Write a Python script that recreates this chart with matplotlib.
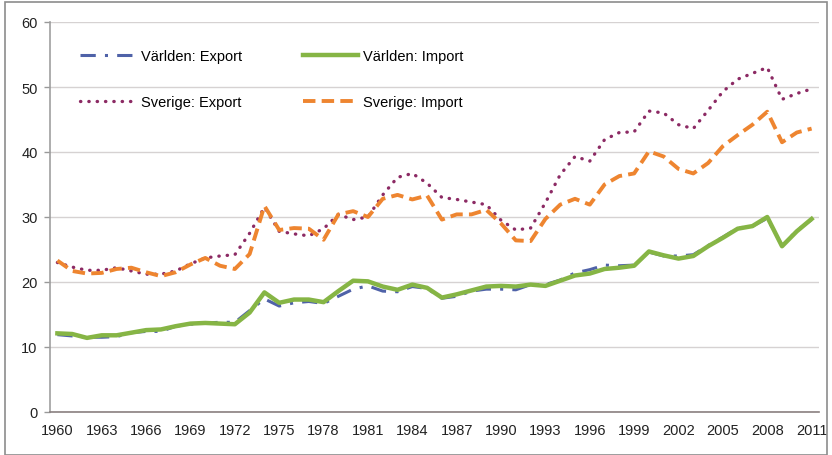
#!/usr/bin/env python3

import matplotlib
matplotlib.use("Agg")
from matplotlib import pyplot as plt
from matplotlib.patches import Rectangle

plt.rcParams["font.family"] = ["Liberation Sans", "DejaVu Sans"]

years = list(range(1960, 2012))

varlden_export = [
    11.9, 11.7, 11.5, 11.5, 11.6, 12.2, 12.4, 12.4, 13.2, 13.5,
    13.7, 13.8, 13.8, 15.6, 17.4, 16.3, 16.8, 17.0, 16.7, 17.8,
    18.9, 19.4, 18.6, 18.5, 19.3, 19.0, 17.5, 17.8, 18.6, 18.9,
    18.9, 18.8, 19.6, 19.6, 20.3, 21.4, 21.9, 22.6, 22.5, 22.6,
    24.6, 24.0, 24.0, 24.2, 25.6, 26.9, 28.3, 28.6, 29.8, 25.6,
    27.9, 29.6,
]
varlden_import = [
    12.1, 12.0, 11.4, 11.8, 11.8, 12.2, 12.6, 12.7, 13.2, 13.6,
    13.7, 13.6, 13.5, 15.3, 18.4, 16.8, 17.3, 17.3, 16.9, 18.6,
    20.2, 20.1, 19.3, 18.8, 19.6, 19.1, 17.6, 18.1, 18.7, 19.3,
    19.4, 19.3, 19.6, 19.4, 20.2, 21.0, 21.3, 22.0, 22.2, 22.5,
    24.7, 24.1, 23.6, 24.0, 25.5, 26.8, 28.2, 28.6, 30.0, 25.5,
    27.8, 29.7,
]
sverige_export = [
    23.0, 22.3, 21.8, 21.8, 22.2, 21.7, 21.2, 21.2, 21.7, 22.8,
    23.7, 24.0, 24.2, 27.5, 31.5, 27.8, 27.4, 27.1, 28.2, 30.4,
    29.6, 30.0, 33.4, 36.1, 36.7, 35.2, 33.0, 32.7, 32.3, 31.9,
    29.5, 28.0, 28.3, 32.2, 36.5, 39.3, 38.6, 41.9, 43.0, 43.1,
    46.3, 46.0, 44.2, 43.6, 46.4, 49.3, 51.2, 52.1, 53.0, 48.1,
    49.0, 49.7,
]
sverige_import = [
    23.3, 21.7, 21.3, 21.4, 22.0, 22.2, 21.5, 20.9, 21.5, 22.7,
    23.7, 22.5, 22.0, 24.3, 31.7, 28.0, 28.3, 28.2, 26.5, 30.4,
    30.9, 30.0, 32.8, 33.4, 32.7, 33.3, 29.6, 30.4, 30.4, 31.1,
    29.0, 26.4, 26.3, 29.7, 31.9, 32.8, 31.9, 35.0, 36.3, 36.7,
    40.1, 39.3, 37.4, 36.7, 38.3, 40.9, 42.6, 44.2, 46.2, 41.5,
    43.0, 43.6,
]

x_ticks = list(range(1960, 2012, 3))
y_ticks = list(range(0, 61, 10))

fig = plt.figure(figsize=(8.32, 4.56), dpi=100)
ax = fig.add_axes([50 / 832, 1 - 413 / 456, 769 / 832, 390 / 456])

# chart border
fig.patches.append(Rectangle((5 / 832, 0), 822 / 832, 453 / 456, transform=fig.transFigure,
                             fill=False, edgecolor="#8c8c8c", linewidth=1.2))

l_ve, = ax.plot(years, varlden_export, color="#4f62a8", lw=2.2,
                linestyle=(0, (5, 3, 1, 3)), label="Världen: Export")
l_vi, = ax.plot(years, varlden_import, color="#86b545", lw=3.2,
                solid_joinstyle="round", label="Världen: Import")
l_se, = ax.plot(years, sverige_export, color="#8c2a64", lw=2.4,
                linestyle=(0, (0.1, 2.4)), dash_capstyle="round", label="Sverige: Export")
l_si, = ax.plot(years, sverige_import, color="#ee8530", lw=2.8,
                linestyle=(0, (3.2, 1.6)), label="Sverige: Import")

ax.set_xlim(1959.5, 2011.5)
ax.set_ylim(0, 60)
ax.set_xticks(x_ticks)
ax.set_yticks(y_ticks)
ax.tick_params(axis="x", length=0, pad=8, labelsize=10.5, colors="#222222")
ax.tick_params(axis="y", length=4, width=1, color="#999999", pad=5, labelsize=10.5,
               labelcolor="#222222")

ax.grid(axis="y", color="#d6d2d2", linewidth=1)
ax.set_axisbelow(True)
for s in ("top", "right"):
    ax.spines[s].set_visible(False)
ax.spines["left"].set_color("#a0a0a0")
ax.spines["left"].set_linewidth(1.2)
ax.spines["bottom"].set_color("#8a8080")
ax.spines["bottom"].set_linewidth(1.2)

fig.legend(
    [l_ve, l_se, l_vi, l_si],
    ["Världen: Export", "Sverige: Export", "Världen: Import", "Sverige: Import"],
    ncol=2, loc="upper left", bbox_to_anchor=(80 / 832, 1 - 50 / 456),
    frameon=False, fontsize=10.5, handlelength=3.8, handletextpad=0.35,
    labelspacing=2.2, columnspacing=4.2, borderpad=0, borderaxespad=0,
)

fig.savefig("out.png", dpi=100)
